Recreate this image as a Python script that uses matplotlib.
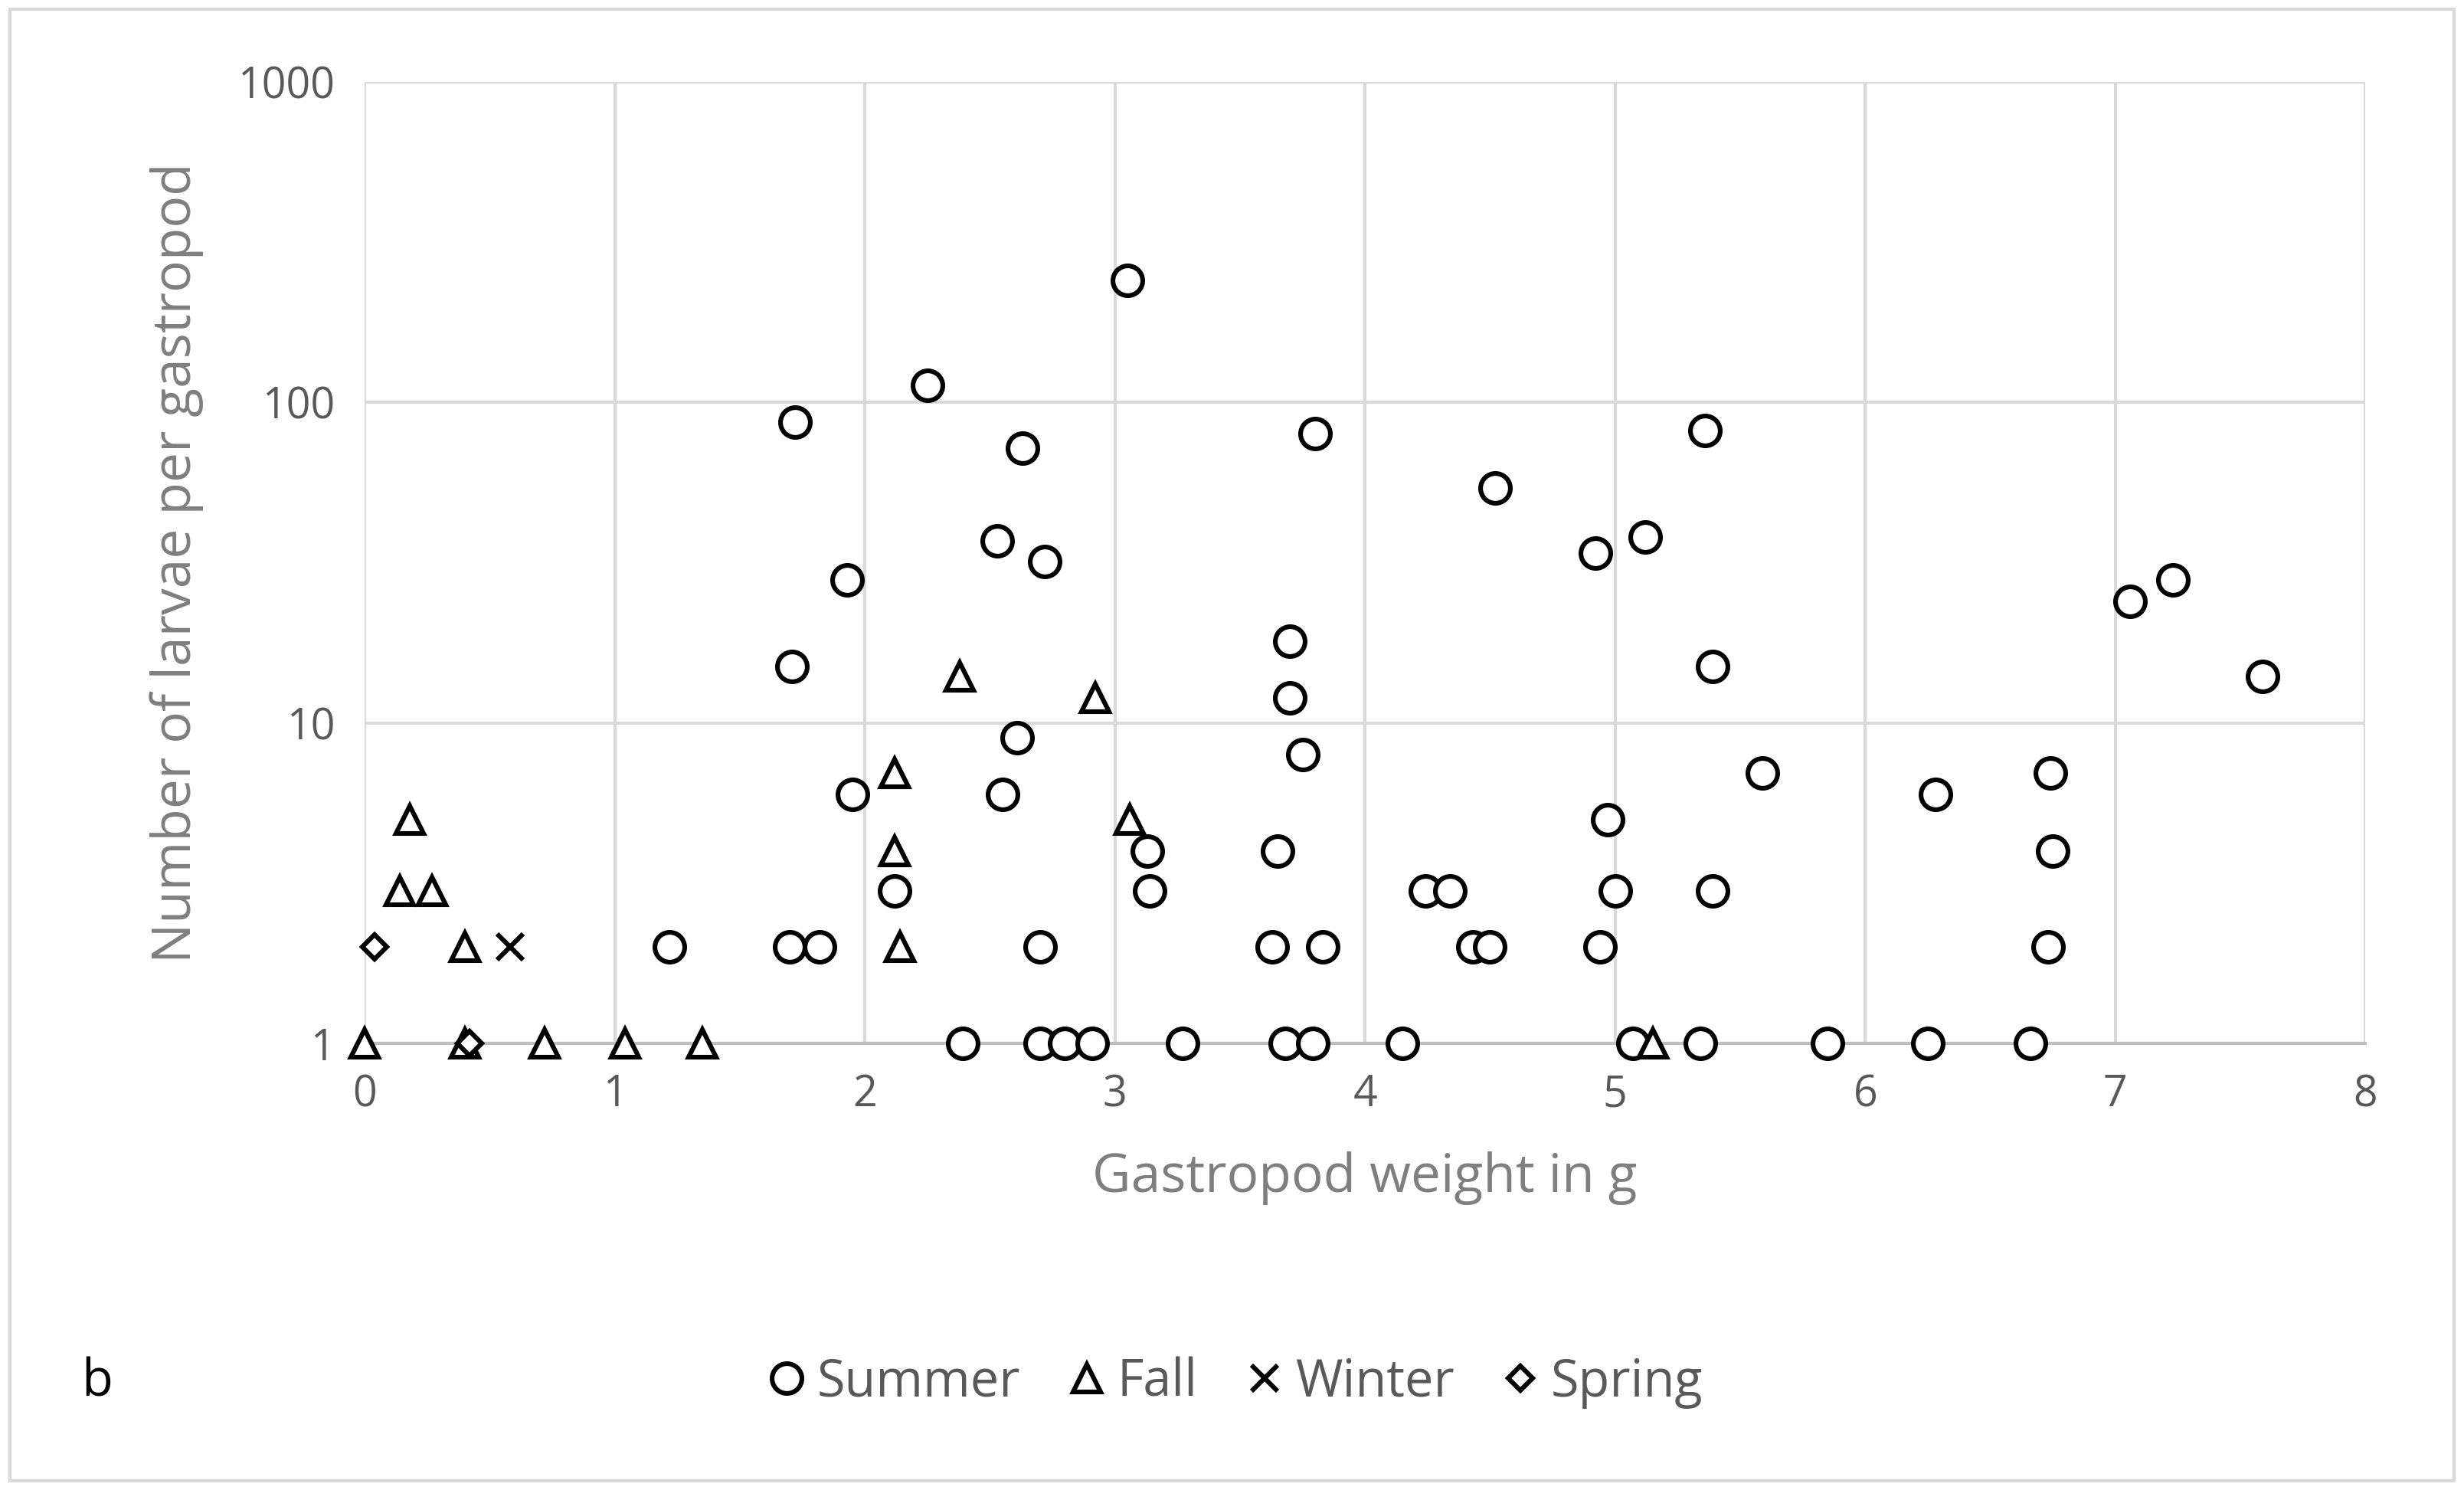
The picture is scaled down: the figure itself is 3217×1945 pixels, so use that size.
import matplotlib.pyplot as plt
from matplotlib.ticker import FixedLocator, NullLocator

plt.rcParams['font.family'] = ['Open Sans', 'DejaVu Sans']

summer_x = [1.72, 1.71, 1.93, 1.95, 2.25, 3.05, 2.63, 2.53, 2.72, 2.61, 2.55, 2.12, 1.70, 1.82,
            1.22, 2.39, 2.70, 2.80, 2.91, 3.27, 3.68, 3.79, 4.15, 2.70, 3.13, 3.14, 3.80, 3.70,
            3.70, 3.75, 3.65, 3.63, 3.83, 4.52, 4.92, 5.12, 5.36, 5.39, 5.59, 4.97, 5.00, 5.39,
            4.24, 4.34, 4.43, 4.50, 4.94, 5.07, 5.34, 5.85, 6.25, 6.66, 6.28, 6.74, 6.75, 6.73,
            7.06, 7.23, 7.59]
summer_y = [87, 15, 28, 6, 113, 240, 72, 37, 32, 9, 6, 3, 2, 2,
            2, 1, 1, 1, 1, 1, 1, 1, 1, 2, 4, 3, 80, 18,
            12, 8, 4, 2, 2, 54, 34, 38, 82, 15, 7, 5, 3, 3,
            3, 3, 2, 2, 2, 1, 1, 1, 1, 1, 6, 7, 4, 2,
            24, 28, 14]
fall_x = [0.0, 0.18, 0.14, 0.27, 0.40, 0.40, 0.72, 1.04, 1.35, 2.38, 2.92, 2.12, 2.12, 2.14, 3.06, 5.15]
fall_y = [1, 5, 3, 3, 2, 1, 1, 1, 1, 14, 12, 7, 4, 2, 5, 1]
winter_x = [0.58]
winter_y = [2]
spring_x = [0.04, 0.42]
spring_y = [2, 1]

fig = plt.figure(figsize=(16.085, 9.725), dpi=200)
ax = fig.add_axes([0.148, 0.2995, 0.812, 0.6455])

mk = dict(linestyle='none', markerfacecolor='white', markeredgecolor='black',
          markeredgewidth=2.2, clip_on=False, zorder=3)
ax.plot(summer_x, summer_y, marker='o', markersize=14, label='Summer', **mk)
ax.plot(fall_x, fall_y, marker='^', markersize=13, label='Fall', **mk)
ax.plot(winter_x, winter_y, marker='x', markersize=12, label='Winter', **mk)
ax.plot(spring_x, spring_y, marker='D', markersize=8, label='Spring', **mk)

ax.set_yscale('log')
ax.set_ylim(1, 1000)
ax.set_xlim(0, 8)
ax.set_xticks(range(9))
ax.yaxis.set_major_locator(FixedLocator([1, 10, 100, 1000]))
ax.yaxis.set_minor_locator(NullLocator())
ax.set_yticklabels(['1', '10', '100', '1000'])
ax.grid(True, color='#d9d9d9', linewidth=1.5)
ax.set_axisbelow(True)
for s in ['top', 'right', 'left']:
    ax.spines[s].set_visible(False)
ax.spines['bottom'].set_color('#bfbfbf')
ax.spines['bottom'].set_linewidth(1.5)
ax.tick_params(length=0, labelsize=20, labelcolor='#595959', pad=14)
ax.set_xlabel('Gastropod weight in g', fontsize=25, color='#7f7f7f', labelpad=16)
ax.set_ylabel('Number of larvae per gastropod', fontsize=25, color='#7f7f7f', labelpad=16)

fig.legend(loc='center', bbox_to_anchor=(0.5, 0.072), ncol=4, frameon=False,
           fontsize=24, labelcolor='#595959', handlelength=1.0, handletextpad=0.1,
           columnspacing=0.8)
fig.text(0.033, 0.072, 'b', fontsize=24, va='center')
fig.patches.append(plt.Rectangle((0.004, 0.006), 0.992, 0.988, transform=fig.transFigure,
                                 fill=False, edgecolor='#d9d9d9', linewidth=1.5))
fig.savefig('out.png', dpi=200)
